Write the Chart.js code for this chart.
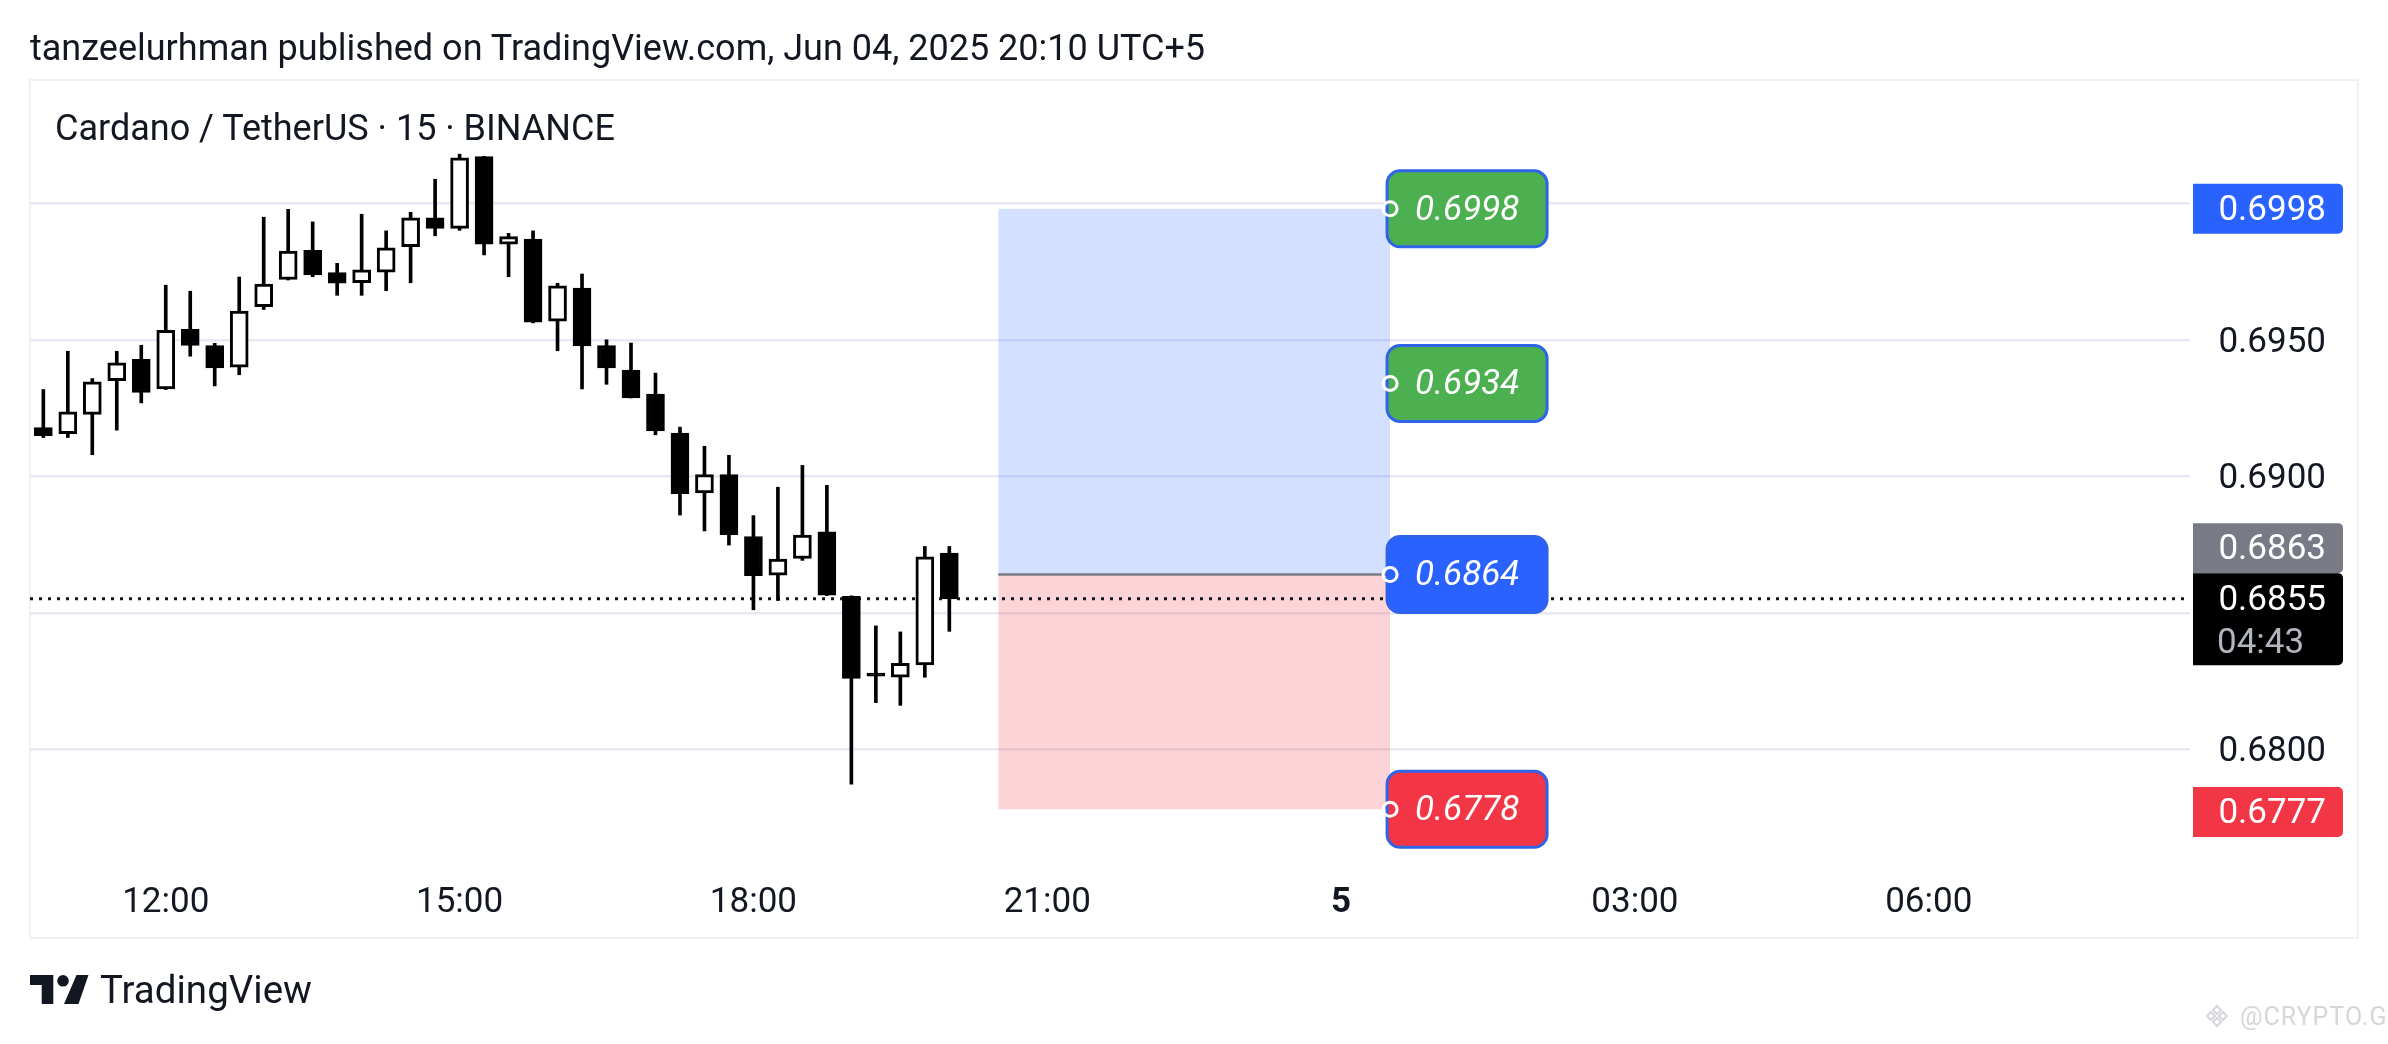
<!DOCTYPE html>
<html>
<head>
<meta charset="utf-8">
<title>ADA/USDT 15m</title>
<script src="https://cdn.jsdelivr.net/npm/chart.js@4.4.1/dist/chart.umd.min.js"></script>
<style>
  html, body { margin: 0; padding: 0; background: #fff; }
  body { width: 2388px; height: 1044px; position: relative; overflow: hidden; font-family: Roboto, sans-serif; color: #131722; }
  #frame { position: absolute; left: 29px; top: 79px; width: 2330px; height: 860px; border: 2px solid #eef0f3; box-sizing: border-box; }
  #chart { position: absolute; left: 0; top: 0; }
  .txt { position: absolute; white-space: nowrap; }
  #header { left: 30px; top: 27px; font-size: 36px; line-height: 42px; }
  #title { left: 55px; top: 107px; font-size: 36px; line-height: 42px; }
  #logo { position: absolute; left: 30px; top: 975px; }
  #brand { left: 100px; top: 968px; font-size: 38.5px; line-height: 44px; }
  #mark { left: 2240px; top: 1002px; font-size: 25px; line-height: 30px; color: #d4d6da; letter-spacing: 1px; }
  #markIcon { position: absolute; left: 2205px; top: 1004px; }
</style>
</head>
<body>
<div id="frame"></div>
<canvas id="chart" width="2388" height="1044"></canvas>
<div class="txt" id="header">tanzeelurhman published on TradingView.com, Jun 04, 2025 20:10 UTC+5</div>
<div class="txt" id="title">Cardano / TetherUS · 15 · BINANCE</div>
<svg id="logo" width="60" height="30" viewBox="0 0 60 30">
  <path d="M0 0 H23.3 V29 H11.7 V10 H0 Z" fill="#131722"/>
  <circle cx="33" cy="5.8" r="5.8" fill="#131722"/>
  <path d="M46.5 0 H58.5 L48.5 29 H34 Z" fill="#131722"/>
</svg>
<div class="txt" id="brand">TradingView</div>
<svg id="markIcon" width="24" height="24" viewBox="0 0 24 24">
  <g fill="none" stroke="#d4d6da" stroke-width="2">
    <path d="M12 2 L16 6 L12 10 L8 6 Z"/>
    <path d="M6 8 L10 12 L6 16 L2 12 Z"/>
    <path d="M18 8 L22 12 L18 16 L14 12 Z"/>
    <path d="M12 14 L16 18 L12 22 L8 18 Z"/>
  </g>
</svg>
<div class="txt" id="mark">@CRYPTO.G</div>
<script>
// 15 minute candles, ADA/USDT
let times = ['10:45', '11:00', '11:15', '11:30', '11:45', '12:00', '12:15', '12:30', '12:45', '13:00',
             '13:15', '13:30', '13:45', '14:00', '14:15', '14:30', '14:45', '15:00', '15:15', '15:30',
             '15:45', '16:00', '16:15', '16:30', '16:45', '17:00', '17:15', '17:30', '17:45', '18:00',
             '18:15', '18:30', '18:45', '19:00', '19:15', '19:30', '19:45', '20:00'];
let opens  = [0.69178, 0.69156, 0.69227, 0.69350, 0.69428, 0.69320, 0.69538, 0.69479, 0.69400, 0.69621,
              0.69721, 0.69828, 0.69746, 0.69709, 0.69748, 0.69841, 0.69947, 0.69908, 0.70171, 0.69850,
              0.69869, 0.69568, 0.69689, 0.69479, 0.69389, 0.69301, 0.69158, 0.68939, 0.69006, 0.68779,
              0.68638, 0.68699, 0.68797, 0.68560, 0.68270, 0.68264, 0.68309, 0.68719];
let highs  = [0.69318, 0.69458, 0.69358, 0.69458, 0.69480, 0.69700, 0.69678, 0.69487, 0.69730, 0.69949,
              0.69978, 0.69932, 0.69780, 0.69960, 0.69899, 0.69967, 0.70088, 0.70180, 0.70172, 0.69890,
              0.69899, 0.69707, 0.69741, 0.69500, 0.69488, 0.69378, 0.69180, 0.69110, 0.69077, 0.68856,
              0.68960, 0.69040, 0.68967, 0.68562, 0.68452, 0.68430, 0.68743, 0.68743];
let lows   = [0.69142, 0.69142, 0.69079, 0.69169, 0.69269, 0.69318, 0.69440, 0.69331, 0.69372, 0.69611,
              0.69719, 0.69731, 0.69663, 0.69663, 0.69680, 0.69709, 0.69881, 0.69901, 0.69811, 0.69731,
              0.69562, 0.69460, 0.69320, 0.69337, 0.69287, 0.69152, 0.68858, 0.68800, 0.68748, 0.68511,
              0.68545, 0.68692, 0.68563, 0.67872, 0.68171, 0.68161, 0.68264, 0.68432];
let closes = [0.69149, 0.69236, 0.69346, 0.69416, 0.69307, 0.69535, 0.69479, 0.69397, 0.69605, 0.69704,
              0.69825, 0.69738, 0.69707, 0.69756, 0.69837, 0.69947, 0.69908, 0.70167, 0.69850, 0.69878,
              0.69565, 0.69698, 0.69478, 0.69397, 0.69287, 0.69166, 0.68936, 0.69006, 0.68786, 0.68636,
              0.68697, 0.68785, 0.68565, 0.68260, 0.68268, 0.68315, 0.68705, 0.68551];

let tickHours  = [12, 15, 18, 21, 24, 27, 30];
let tickLabels = ['12:00', '15:00', '18:00', '21:00', '5', '03:00', '06:00'];

// long position tool
let positionHours = [20.5, 24.5];
let entryPrice = 0.6864;
let targetPrice = 0.6998;
let stopPrice = 0.6778;
let posLabels = [0.6998, 0.6934, 0.6864, 0.6778];
let posColors = ['#4caf50', '#4caf50', '#2962ff', '#f23645'];

// price scale tags
let axisTags = [0.6998, 0.6863, 0.6855, 0.6777];
let axisColors = ['#2962ff', '#787b86', '#000000', '#f23645'];
let countdown = '04:43';

let viewMin = 10.614, viewMax = 32.667;
let priceMin = 0.675945, priceMax = 0.704553;

function toHours(t) {
    let p = t.split(':');
    return parseInt(p[0], 10) + parseInt(p[1], 10) / 60;
}

let hours = times.map(toHours);
let bodies = hours.map((h, i) => ({ x: h, y: [opens[i], closes[i]] }));
let wicks = hours.map((h, i) => ({ x: h, y: [lows[i], highs[i]] }));
let bodyFill = opens.map((o, i) => closes[i] >= o ? '#ffffff' : '#000000');
let lastClose = closes[closes.length - 1];

let tagPlugin = {
    id: 'tags',
    afterDraw(chart) {
        let ctx = chart.ctx, xs = chart.scales.x, ys = chart.scales.y;
        ctx.save();

        // labels of the position tool
        let px = xs.getPixelForValue(positionHours[1]);
        posLabels.forEach((p, i) => {
            let cy = ys.getPixelForValue(p);
            let h = 76, left = px - 3;
            ctx.beginPath();
            ctx.roundRect(left, cy - h / 2, 160, h, 13);
            ctx.fillStyle = posColors[i];
            ctx.fill();
            ctx.lineWidth = 3;
            ctx.strokeStyle = '#2f64e8';
            ctx.stroke();
            ctx.font = 'italic 35px Roboto';
            ctx.fillStyle = '#ffffff';
            ctx.textAlign = 'left';
            ctx.textBaseline = 'middle';
            ctx.fillText(p.toFixed(4), left + 28, cy + 2);
            ctx.beginPath();
            ctx.arc(px, cy, 7, 0, Math.PI * 2);
            ctx.lineWidth = 3;
            ctx.strokeStyle = '#ffffff';
            ctx.stroke();
        });

        // tags on the price scale
        let tl = ys.left + 3, tw = ys.right + 17 - tl;
        let lastY = ys.getPixelForValue(axisTags[2]);
        let lastTop = lastY - 26;
        axisTags.forEach((v, i) => {
            let cy = ys.getPixelForValue(v);
            let top = cy - 25, h = 50;
            if (i === 2) { top = lastTop; h = 92; }
            if (i === 1 && top + h > lastTop) { top = lastTop - h; cy = top + 25; }
            ctx.beginPath();
            ctx.roundRect(tl, top, tw, h, [0, 5, 5, 0]);
            ctx.fillStyle = axisColors[i];
            ctx.fill();
            ctx.font = '35px Roboto';
            ctx.textAlign = 'right';
            ctx.textBaseline = 'middle';
            ctx.fillStyle = '#ffffff';
            ctx.fillText(v.toFixed(4), ys.right, cy + 2);
            if (i === 2) {
                ctx.fillStyle = '#b2b5be';
                ctx.textAlign = 'left';
                ctx.fillText(countdown, tl + 24, cy + 45);
            }
        });
        ctx.restore();
    }
};

let ctx = document.getElementById('chart').getContext('2d');
let chart = new Chart(ctx, {
    type: 'bar',
    data: {
        datasets: [
            {
                label: 'bodies',
                data: bodies,
                backgroundColor: bodyFill,
                borderColor: '#000000',
                borderWidth: 3,
                borderSkipped: false,
                barThickness: 18,
                minBarLength: 3,
                grouped: false,
                order: 1
            },
            {
                label: 'wicks',
                data: wicks,
                backgroundColor: '#000000',
                borderWidth: 0,
                barThickness: 3,
                grouped: false,
                order: 2
            },
            {
                type: 'line',
                label: 'last',
                data: [{ x: viewMin, y: lastClose }, { x: viewMax, y: lastClose }],
                borderColor: '#131722',
                borderWidth: 3,
                borderDash: [3, 6],
                pointRadius: 0,
                fill: false,
                order: 3
            },
            {
                type: 'line',
                label: 'entry',
                data: positionHours.map(h => ({ x: h, y: entryPrice })),
                borderColor: '#787b86',
                borderWidth: 2.5,
                pointRadius: 0,
                fill: false,
                order: 4
            },
            {
                type: 'line',
                label: 'target',
                data: positionHours.map(h => ({ x: h, y: targetPrice })),
                borderWidth: 0,
                pointRadius: 0,
                backgroundColor: 'rgba(41, 98, 255, 0.2)',
                fill: { value: entryPrice },
                order: 5
            },
            {
                type: 'line',
                label: 'stop',
                data: positionHours.map(h => ({ x: h, y: stopPrice })),
                borderWidth: 0,
                pointRadius: 0,
                backgroundColor: 'rgba(242, 54, 69, 0.22)',
                fill: { value: entryPrice },
                order: 6
            }
        ]
    },
    options: {
        responsive: false,
        animation: false,
        devicePixelRatio: 1,
        layout: { padding: { left: 30, right: 62, top: 79, bottom: 106 } },
        plugins: {
            legend: { display: false },
            tooltip: { enabled: false },
            title: { display: false }
        },
        scales: {
            x: {
                type: 'linear',
                min: viewMin,
                max: viewMax,
                offset: false,
                grid: { display: false, drawTicks: false },
                border: { display: false },
                afterBuildTicks: (axis) => { axis.ticks = tickHours.map(v => ({ value: v })); },
                afterFit: (axis) => { axis.height = 78; },
                ticks: {
                    autoSkip: false,
                    maxRotation: 0,
                    padding: 22,
                    color: '#131722',
                    font: (c) => ({ family: 'Roboto', size: 35, weight: c.tick && c.tick.value === 24 ? 'bold' : 'normal' }),
                    callback: (v) => tickLabels[tickHours.indexOf(v)]
                }
            },
            y: {
                type: 'linear',
                position: 'right',
                min: priceMin,
                max: priceMax,
                grid: { color: '#e6e9f4', lineWidth: 2.5, drawTicks: false },
                border: { display: false },
                afterFit: (axis) => { axis.width = 136; },
                ticks: {
                    stepSize: 0.005,
                    includeBounds: false,
                    crossAlign: 'far',
                    labelOffset: 3,
                    color: '#131722',
                    font: { family: 'Roboto', size: 35 },
                    callback: (v) => v.toFixed(4)
                }
            }
        }
    },
    plugins: [tagPlugin]
});
</script>
</body>
</html>
